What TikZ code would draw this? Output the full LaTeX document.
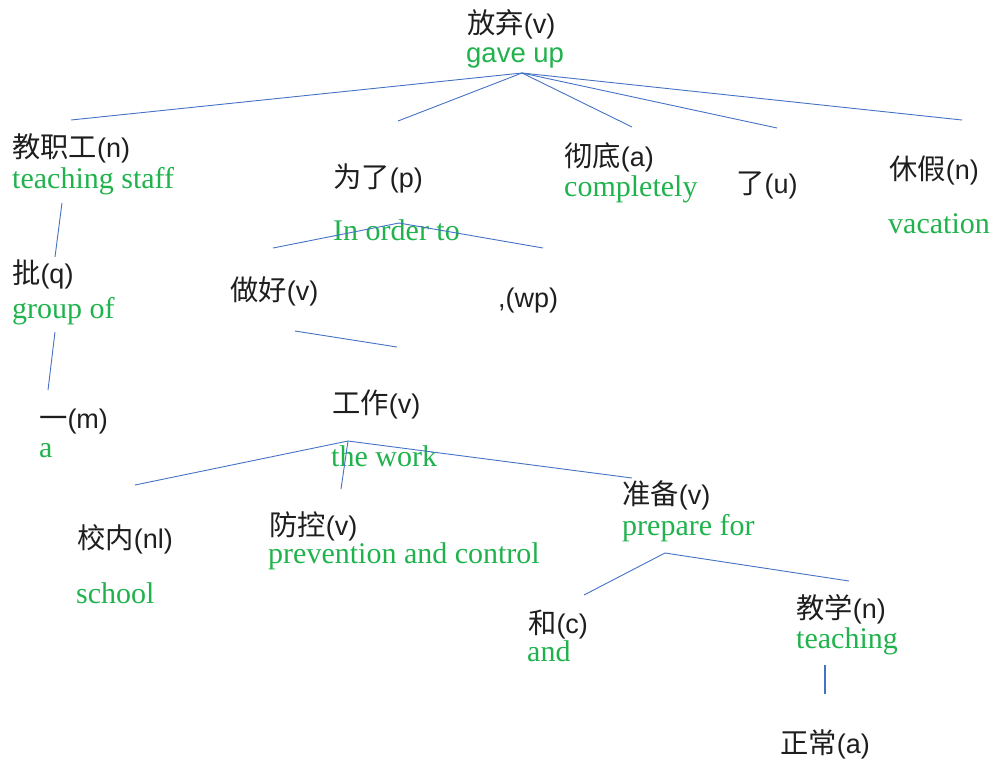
\documentclass[tikz,border=0pt]{standalone}
\usepackage{fontspec}
\setmainfont{Liberation Sans}
\newfontfamily\cjk{Noto Sans CJK SC}
\newfontfamily\enserif{Liberation Serif}
\definecolor{gr}{RGB}{32,178,76}
\definecolor{ln}{RGB}{68,114,196}
\definecolor{tx}{RGB}{30,30,30}
\newcommand{\zc}[1]{{\cjk\fontsize{28.3}{30}\selectfont #1}}
\begin{document}
\begin{tikzpicture}[x=1pt,y=-1pt,
  zh/.style={anchor=base west,inner sep=0pt,font=\fontsize{27}{30}\selectfont,text=tx},
  en/.style={anchor=base west,inner sep=0pt,font=\enserif\fontsize{30}{32}\selectfont,text=gr},
  ensans/.style={anchor=base west,inner sep=0pt,font=\fontsize{27.5}{30}\selectfont,text=gr},
  edge/.style={draw=ln,line width=0.9pt}]
\useasboundingbox (0,0) rectangle (990,761);

% root
\node[zh] (fq) at (467,33) {\zc{放弃}(v)};
\node[ensans] (fqe) at (466,62) {gave up};

% level 1
\node[zh] (jzg) at (12,157) {\zc{教职工}(n)};
\node[en] (jzge) at (12,188) {teaching staff};
\node[zh] (wl) at (333,187) {\zc{为了}(p)};
\node[en] (wle) at (333,240) {In order to};
\node[zh] (cd) at (564,166) {\zc{彻底}(a)};
\node[en] (cde) at (564,196) {completely};
\node[zh] (le) at (736,193) {\zc{了}(u)};
\node[zh] (xj) at (889,179) {\zc{休假}(n)};
\node[en] (xje) at (888,233) {vacation};

% under jzg
\node[zh] (pi) at (12,283) {\zc{批}(q)};
\node[en] (pie) at (12,318) {group of};
\node[zh] (yi) at (39,428) {\zc{一}(m)};
\node[en] (yie) at (39,457) {a};

% under wl
\node[zh] (zh) at (230,300) {\zc{做好}(v)};
\node[zh] (wp) at (498,307) {,(wp)};
\node[zh] (gz) at (332,413) {\zc{工作}(v)};
\node[en] (gze) at (331,466) {the work};

% under gz
\node[zh] (xn) at (77,548) {\zc{校内}(nl)};
\node[en] (xne) at (76,603) {school};
\node[zh] (fk) at (269,535) {\zc{防控}(v)};
\node[en] (fke) at (268,563) {prevention and control};
\node[zh] (zb) at (622,504) {\zc{准备}(v)};
\node[en] (zbe) at (622,535) {prepare for};

% under zb
\node[zh] (he) at (528,633) {\zc{和}(c)};
\node[en] (hee) at (527,661) {and};
\node[zh] (jx) at (796,618) {\zc{教学}(n)};
\node[en] (jxe) at (796,648) {teaching};
\node[zh] (zcn) at (780,753) {\zc{正常}(a)};

% connector ends
\coordinate (r0) at (522,73);
\coordinate (r1) at (71,120);
\coordinate (r2) at (398,121);
\coordinate (r3) at (632,127);
\coordinate (r4) at (777,128);
\coordinate (r5) at (962,120);
\coordinate (a0) at (62,203);
\coordinate (a1) at (55,257);
\coordinate (b0) at (55,332);
\coordinate (b1) at (48,390);
\coordinate (w0) at (399,223);
\coordinate (w1) at (273,248);
\coordinate (w2) at (543,248);
\coordinate (z0) at (295,331);
\coordinate (z1) at (397,347);
\coordinate (g0) at (348,441);
\coordinate (g1) at (135,485);
\coordinate (g2) at (341,489);
\coordinate (g3) at (632,478);
\coordinate (p0) at (665,553);
\coordinate (p1) at (584,595);
\coordinate (p2) at (849,581);
\coordinate (t0) at (825,665);
\coordinate (t1) at (825,694);

\draw[edge] (r0) -- (r1);
\draw[edge] (r0) -- (r2);
\draw[edge] (r0) -- (r3);
\draw[edge] (r0) -- (r4);
\draw[edge] (r0) -- (r5);
\draw[edge] (a0) -- (a1);
\draw[edge] (b0) -- (b1);
\draw[edge] (w0) -- (w1);
\draw[edge] (w0) -- (w2);
\draw[edge] (z0) -- (z1);
\draw[edge] (g0) -- (g1);
\draw[edge] (g0) -- (g2);
\draw[edge] (g0) -- (g3);
\draw[edge] (p0) -- (p1);
\draw[edge] (p0) -- (p2);
\draw[edge,line width=1.5pt] (t0) -- (t1);
\end{tikzpicture}
\end{document}
